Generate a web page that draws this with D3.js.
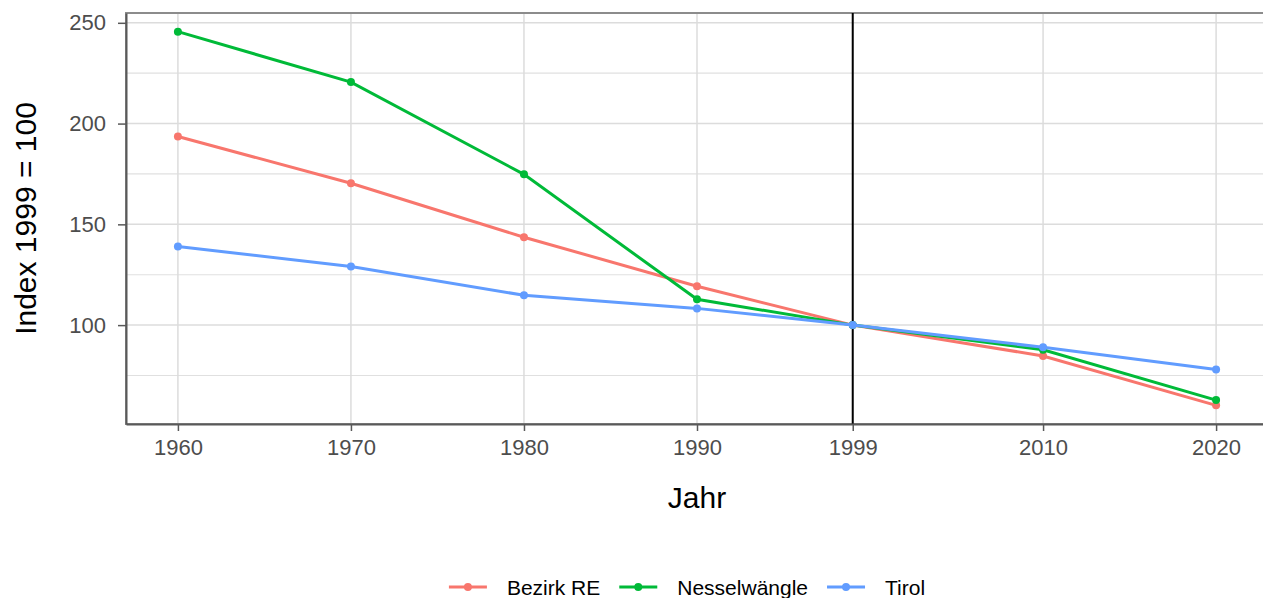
<!DOCTYPE html>
<html>
<head>
<meta charset="utf-8">
<script src="https://cdn.jsdelivr.net/npm/d3@7"></script>
<style>
  body { margin: 0; background: #fff; }
  text { font-family: "Liberation Sans", Arial, sans-serif; }
</style>
</head>
<body>
<div id="chart"></div>
<script>
// Jahre und Indexwerte (1999 = 100)
const years = [1960, 1970, 1980, 1990, 1999, 2010, 2020];
const bezirkRE = [193.6, 170.4, 143.6, 119.3, 100, 84.7, 60.2];
const nesselwaengle = [245.6, 220.6, 174.8, 112.8, 100, 87.8, 62.8];
const tirol = [139.0, 129.1, 114.8, 108.3, 100, 89.0, 78.0];
const seriesNames = ['Bezirk RE', 'Nesselwängle', 'Tirol'];
const seriesColours = ['#F8766D', '#00BA38', '#619CFF'];
const yTicks = [100, 150, 200, 250];
const yMinorTicks = [75, 125, 175, 225];
const refYear = 1999;

const width = 1263;
const height = 598;
const panel = { left: 126, right: 1268, top: 13, bottom: 424 };

const series = [bezirkRE, nesselwaengle, tirol].map((vals, i) => ({
	name: seriesNames[i],
	colour: seriesColours[i],
	values: vals.map((v, j) => ({ year: years[j], value: v })),
}));

// ggplot-style 5% expansion
const allVals = [].concat(bezirkRE, nesselwaengle, tirol);
const yMin = d3.min(allVals);
const yMax = d3.max(allVals);
const yPad = (yMax - yMin) * 0.05;
const xPad = (d3.max(years) - d3.min(years)) * 0.05;

const x = d3.scaleLinear()
	.domain([d3.min(years) - xPad, d3.max(years) + xPad])
	.range([panel.left, panel.right]);
const y = d3.scaleLinear()
	.domain([yMin - yPad, yMax + yPad])
	.range([panel.bottom, panel.top]);

const svg = d3.select('#chart')
	.append('svg')
	.attr('width', width)
	.attr('height', height);

// grid
const grid = svg.append('g');
grid.selectAll('.minor')
	.data(yMinorTicks)
	.join('line')
	.attr('x1', panel.left).attr('x2', panel.right)
	.attr('y1', (d) => y(d)).attr('y2', (d) => y(d))
	.attr('stroke', '#e0e0e0').attr('stroke-width', 1.2);
grid.selectAll('.major')
	.data(yTicks)
	.join('line')
	.attr('x1', panel.left).attr('x2', panel.right)
	.attr('y1', (d) => y(d)).attr('y2', (d) => y(d))
	.attr('stroke', '#dcdcdc').attr('stroke-width', 1.5);
grid.selectAll('.vmajor')
	.data(years)
	.join('line')
	.attr('x1', (d) => x(d)).attr('x2', (d) => x(d))
	.attr('y1', panel.top).attr('y2', panel.bottom)
	.attr('stroke', '#dcdcdc').attr('stroke-width', 1.5);

// panel border
svg.append('rect')
	.attr('x', panel.left).attr('y', panel.top)
	.attr('width', panel.right - panel.left)
	.attr('height', panel.bottom - panel.top)
	.attr('fill', 'none')
	.attr('stroke', '#8c8c8c')
	.attr('stroke-width', 2);

// reference line at 1999
svg.append('line')
	.attr('x1', x(refYear)).attr('x2', x(refYear))
	.attr('y1', panel.top).attr('y2', panel.bottom)
	.attr('stroke', '#000').attr('stroke-width', 2);

// lines and points
const line = d3.line().x((d) => x(d.year)).y((d) => y(d.value));
const g = svg.append('g');
series.forEach((s) => {
	g.append('path')
		.datum(s.values)
		.attr('d', line)
		.attr('fill', 'none')
		.attr('stroke', s.colour)
		.attr('stroke-width', 3);
	g.selectAll(null)
		.data(s.values)
		.join('circle')
		.attr('cx', (d) => x(d.year))
		.attr('cy', (d) => y(d.value))
		.attr('r', 4)
		.attr('fill', s.colour);
});

// axes
const xAxis = svg.append('g')
	.attr('transform', `translate(0,${panel.bottom})`)
	.call(d3.axisBottom(x).tickValues(years).tickFormat(d3.format('d'))
		.tickSize(7).tickSizeOuter(0).tickPadding(8));
const yAxis = svg.append('g')
	.attr('transform', `translate(${panel.left},0)`)
	.call(d3.axisLeft(y).tickValues(yTicks).tickSize(8).tickSizeOuter(0).tickPadding(12));
[xAxis, yAxis].forEach((a) => {
	a.select('.domain').attr('stroke', '#595959').attr('stroke-width', 2);
	a.selectAll('.tick line').attr('stroke', '#595959').attr('stroke-width', 1.5);
	a.selectAll('.tick text')
		.attr('fill', '#4d4d4d')
		.style('font-size', '22px')
		.style('font-family', '"Liberation Sans", Arial, sans-serif');
});

// axis titles
svg.append('text')
	.attr('x', 697)
	.attr('y', 508)
	.attr('text-anchor', 'middle')
	.style('font-size', '30px')
	.text('Jahr');
svg.append('text')
	.attr('transform', `translate(36,${(panel.top + panel.bottom) / 2}) rotate(-90)`)
	.attr('text-anchor', 'middle')
	.style('font-size', '30px')
	.text('Index 1999 = 100');

// legend
const legend = svg.append('g');
const keyW = 38;
const keyGap = 20;
const itemGap = 19;
let lx = 0;
series.forEach((s) => {
	const item = legend.append('g').attr('transform', `translate(${lx},0)`);
	item.append('line')
		.attr('x1', 0).attr('x2', keyW)
		.attr('y1', 0).attr('y2', 0)
		.attr('stroke', s.colour).attr('stroke-width', 3);
	item.append('circle')
		.attr('cx', keyW / 2).attr('cy', 0).attr('r', 4)
		.attr('fill', s.colour);
	const t = item.append('text')
		.attr('x', keyW + keyGap)
		.attr('y', 7.5)
		.style('font-size', '21px')
		.text(s.name);
	lx += keyW + keyGap + t.node().getComputedTextLength() + itemGap;
});
const legendW = lx - itemGap;
legend.attr('transform', `translate(${687 - legendW / 2},587)`);
</script>
</body>
</html>
